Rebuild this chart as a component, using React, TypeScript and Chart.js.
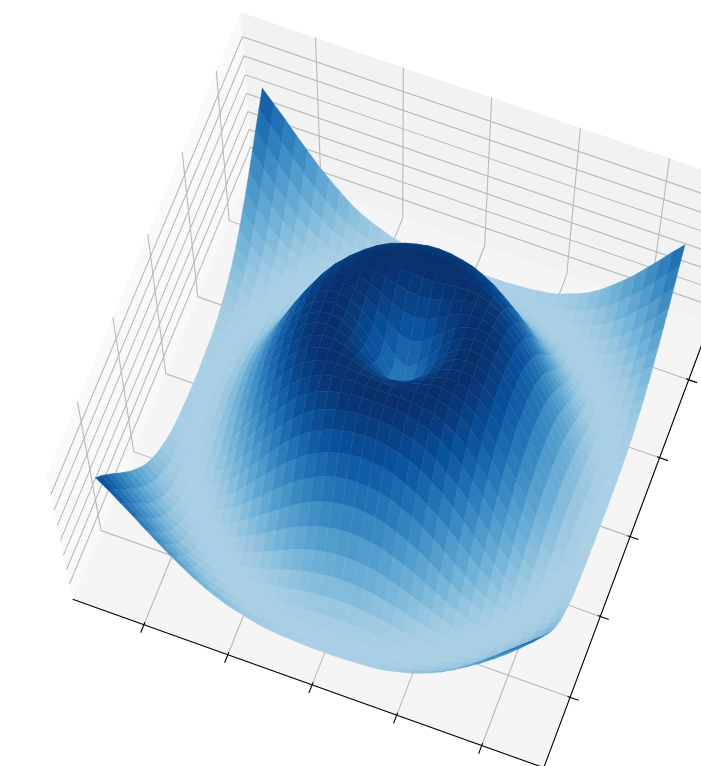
import React, { useEffect, useRef } from "react";
import Chart from "chart.js/auto";

// Grid of the surface
const xValues = [-5,-4.75,-4.5,-4.25,-4,-3.75,-3.5,-3.25,-3,-2.75,-2.5,-2.25,-2,-1.75,-1.5,-1.25,-1,-0.75,-0.5,-0.25,0,0.25,0.5,0.75,1,1.25,1.5,1.75,2,2.25,2.5,2.75,3,3.25,3.5,3.75,4,4.25,4.5,4.75];
const yValues = [...xValues];
// Heights for one quadrant (row: distance index along x from the centre, column: along y); the surface is mirror-symmetric
const zQuadrant = [
[0,.25,.48,.68,.84,.95,1,.98,.91,.78,.6,.38,.14,-.11,-.35,-.57,-.76,-.9,-.98,-1,-.96],
[.25,.35,.53,.71,.86,.96,1,.98,.9,.77,.59,.37,.13,-.12,-.36,-.58,-.76,-.9,-.98,-1,-.96],
[.48,.53,.65,.78,.9,.97,1,.97,.88,.74,.56,.34,.1,-.15,-.38,-.6,-.78,-.91,-.98,-1,-.95],
[.68,.71,.78,.87,.95,.99,.99,.94,.84,.7,.51,.29,.05,-.19,-.42,-.63,-.8,-.92,-.99,-1,-.94],
[.84,.86,.9,.95,.99,1,.97,.9,.79,.63,.43,.21,-.02,-.26,-.48,-.67,-.83,-.94,-.99,-.99,-.93],
[.95,.96,.97,.99,1,.98,.93,.84,.71,.54,.34,.12,-.11,-.33,-.54,-.72,-.87,-.96,-1,-.98,-.91],
[1,1,1,.99,.97,.93,.85,.74,.6,.42,.22,.01,-.21,-.42,-.62,-.78,-.91,-.98,-1,-.96,-.88],
[.98,.98,.97,.94,.9,.84,.74,.62,.46,.29,.09,-.12,-.33,-.52,-.7,-.84,-.94,-.99,-.99,-.94,-.83],
[.91,.9,.88,.84,.79,.71,.6,.46,.31,.13,-.06,-.26,-.45,-.62,-.78,-.89,-.97,-1,-.98,-.91,-.78],
[.78,.77,.74,.7,.63,.54,.42,.29,.13,-.04,-.22,-.4,-.57,-.72,-.85,-.94,-.99,-1,-.95,-.85,-.72],
[.6,.59,.56,.51,.43,.34,.22,.09,-.06,-.22,-.38,-.54,-.69,-.82,-.92,-.98,-1,-.98,-.91,-.79,-.64],
[.38,.37,.34,.29,.21,.12,.01,-.12,-.26,-.4,-.54,-.68,-.8,-.9,-.97,-1,-.99,-.94,-.85,-.72,-.55],
[.14,.13,.1,.05,-.02,-.11,-.21,-.33,-.45,-.57,-.69,-.8,-.89,-.96,-.99,-1,-.96,-.88,-.77,-.62,-.44],
[-.11,-.12,-.15,-.19,-.26,-.33,-.42,-.52,-.62,-.72,-.82,-.9,-.96,-.99,-1,-.97,-.91,-.8,-.67,-.5,-.31],
[-.35,-.36,-.38,-.42,-.48,-.54,-.62,-.7,-.78,-.85,-.92,-.97,-.99,-1,-.97,-.91,-.82,-.7,-.55,-.37,-.18],
[-.57,-.58,-.6,-.63,-.67,-.72,-.78,-.84,-.89,-.94,-.98,-1,-1,-.97,-.91,-.83,-.72,-.58,-.41,-.23,-.03],
[-.76,-.76,-.78,-.8,-.83,-.87,-.91,-.94,-.97,-.99,-1,-.99,-.96,-.91,-.82,-.72,-.59,-.43,-.26,-.07,.12],
[-.89,-.9,-.91,-.92,-.94,-.96,-.98,-.99,-1,-1,-.98,-.94,-.88,-.8,-.7,-.58,-.43,-.27,-.09,.09,.28],
[-.98,-.98,-.98,-.99,-.99,-1,-1,-.99,-.98,-.95,-.91,-.85,-.77,-.67,-.55,-.41,-.26,-.09,.08,.26,.43],
[-1,-1,-1,-1,-.99,-.98,-.96,-.94,-.91,-.85,-.79,-.72,-.62,-.5,-.37,-.23,-.07,.09,.26,.42,.58],
[-.96,-.96,-.95,-.94,-.93,-.91,-.88,-.83,-.78,-.72,-.64,-.55,-.44,-.31,-.18,-.03,.12,.28,.43,.58,.71],
];
const xTicks = [-4,-2,0,2,4];
const yTicks = [-4,-2,0,2,4];
const zTicks = [-0.75,-0.5,-0.25,0,0.25,0.5,0.75];

// Axis limits and camera
const X0 = -5.7076, X1 = 5.4543, Y0 = -5.7231, Y1 = 5.4547, Z0 = -1.0219, Z1 = 1.06;
const EL = 70 * Math.PI / 180, AZ = -69.61 * Math.PI / 180;
const DIST = 18.5614, FOCAL = 4774.6, CX = 394.5, CY = 395.6, ZS = 0.7297;
const CLIM_LOW = -2, CLIM_HIGH = 1;
const BLUES = [[247,251,255],[222,235,247],[198,219,239],[158,202,225],[107,174,214],[66,146,198],[33,113,181],[8,81,156],[8,48,107]];

function colour(z: number) {
  const t = Math.min(1, Math.max(0, (z - CLIM_LOW) / (CLIM_HIGH - CLIM_LOW))) * (BLUES.length - 1);
  const i = Math.min(BLUES.length - 2, Math.floor(t));
  const f = t - i;
  const c = BLUES[i].map((v, k) => Math.round(v + (BLUES[i + 1][k] - v) * f));
  return `rgb(${c[0]},${c[1]},${c[2]})`;
}

function project(x: number, y: number, z: number) {
  const X = (x - (X0 + X1) / 2) / ((X1 - X0) / 2);
  const Y = (y - (Y0 + Y1) / 2) / ((Y1 - Y0) / 2);
  const Z = (z - (Z0 + Z1) / 2) * ZS;
  const ce = Math.cos(EL), se = Math.sin(EL), ca = Math.cos(AZ), sa = Math.sin(AZ);
  const depth = X * ce * ca + Y * ce * sa + Z * se;
  const r = -X * sa + Y * ca;
  const u = -X * se * ca - Y * se * sa + Z * ce;
  const w = DIST - depth;
  return { x: CX + FOCAL * r / w, y: CY - FOCAL * u / w, depth };
}

const zAt = (i: number, j: number) => zQuadrant[Math.abs(i - 20)][Math.abs(j - 20)];

function shape(corners: number[][], fillColour: string, seam = 0) {
  const closed = [...corners, corners[0]];
  return {
    data: closed.map(c => { const p = project(c[0], c[1], c[2]); return { x: p.x, y: p.y }; }),
    showLine: true, fill: "shape" as const, backgroundColor: fillColour,
    borderColor: fillColour, borderWidth: seam, pointRadius: 0, tension: 0,
  };
}
function line(points: number[][], stroke: string, width: number) {
  return {
    data: points.map(c => { const p = project(c[0], c[1], c[2]); return { x: p.x, y: p.y }; }),
    showLine: true, fill: false, borderColor: stroke, borderWidth: width,
    pointRadius: 0, tension: 0, borderCapStyle: "butt" as const,
  };
}

function buildDatasets() {
  const marks: any[] = [];
  marks.push(shape([[X0,Y0,Z0],[X0,Y1,Z0],[X0,Y1,Z1],[X0,Y0,Z1]], "#f9f9f9"));
  marks.push(shape([[X0,Y1,Z0],[X1,Y1,Z0],[X1,Y1,Z1],[X0,Y1,Z1]], "#f2f2f2"));
  marks.push(shape([[X0,Y0,Z0],[X1,Y0,Z0],[X1,Y1,Z0],[X0,Y1,Z0]], "#f5f5f5"));
  const GRID = "#b9b9b9", GW = 1.1;
  xTicks.forEach(t => marks.push(line([[t,Y0,Z0],[t,Y1,Z0],[t,Y1,Z1]], GRID, GW)));
  yTicks.forEach(t => marks.push(line([[X1,t,Z0],[X0,t,Z0],[X0,t,Z1]], GRID, GW)));
  zTicks.forEach(t => marks.push(line([[X0,Y0,t],[X0,Y1,t],[X1,Y1,t]], GRID, GW)));
  marks.push(line([[X0,Y0,Z0],[X1,Y0,Z0],[X1,Y1,Z0]], "#000", 1.1));
  xTicks.forEach(t => marks.push(line([[t,Y0+0.06,Z0],[t,Y0-0.2,Z0]], "#000", 1.1)));
  yTicks.forEach(t => marks.push(line([[X1-0.06,t,Z0],[X1+0.2,t,Z0]], "#000", 1.1)));
  const cells: { depth: number; ds: any }[] = [];
  for (let i = 0; i < xValues.length - 1; i++) {
    for (let j = 0; j < yValues.length - 1; j++) {
      const corners = [[i,j],[i+1,j],[i+1,j+1],[i,j+1]].map(([a,b]) => [xValues[a], yValues[b], zAt(a,b)]);
      const mean = corners.reduce((s,c) => s + c[2], 0) / 4;
      const depth = corners.reduce((s,c) => s + project(c[0],c[1],c[2]).depth, 0) / 4;
      cells.push({ depth, ds: shape(corners, colour(mean), 0.4) });
    }
  }
  cells.sort((a,b) => a.depth - b.depth);
  cells.forEach(c => marks.push(c.ds));
  return marks.reverse(); // Chart.js paints the first dataset last
}

export default function App() {
  const ref = useRef<HTMLCanvasElement>(null);
  useEffect(() => {
    const chart = new Chart(ref.current!, {
      type: "scatter",
      data: { datasets: buildDatasets() },
      options: {
        animation: false, responsive: false, events: [], devicePixelRatio: 1,
        layout: { padding: 0 },
        plugins: { legend: { display: false }, tooltip: { enabled: false }, filler: { propagate: false } },
        scales: {
          x: { type: "linear", display: false, min: 0, max: 701 },
          y: { type: "linear", display: false, min: 0, max: 766, reverse: true },
        },
      },
    });
    return () => chart.destroy();
  }, []);
  return <canvas ref={ref} width={701} height={766} style={{ position: "absolute", left: 0, top: 0, width: 701, height: 766 }} />;
}
